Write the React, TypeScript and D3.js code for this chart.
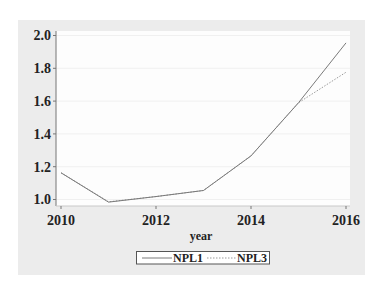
import React from "react";
import * as d3 from "d3";

const years = [2010, 2011, 2012, 2013, 2014, 2015, 2016];
const npl1 = [1.163, 0.984, 1.018, 1.055, 1.266, 1.59, 1.955];
const npl3 = [1.163, 0.986, 1.018, 1.055, 1.266, 1.59, 1.776];
const yTicks = [1.0, 1.2, 1.4, 1.6, 1.8, 2.0];
const xTicks = [2010, 2012, 2014, 2016];
const seriesNames = ["NPL1", "NPL3"];

export default function App() {
  const W = 376, H = 286;
  const x = d3.scaleLinear().domain([2010, 2016]).range([61, 346]);
  const y = d3.scaleLinear().domain([1.0, 2.0]).range([199.5, 35.5]);
  const line = d3.line<number>().x((_, i) => x(years[i])).y((d) => y(d));
  const font = "'Liberation Serif', 'DejaVu Serif', serif";
  return (
    <svg width={W} height={H} style={{ position: "absolute", left: 0, top: 0 }}>
      <rect x={0} y={0} width={W} height={H} fill="#fff" />
      <rect x={18} y={20} width={347} height={255} fill="#ececec" />
      <rect x={56} y={31} width={294} height={175} fill="#fdfdfd" />
      {yTicks.map((t) => (
        <line key={"g" + t} x1={56} x2={350} y1={y(t)} y2={y(t)} stroke="#f0f0f0" strokeWidth={1} />
      ))}
      <path d={line(npl3) || ""} fill="none" stroke="#9a9a9a" strokeWidth={1} strokeDasharray="1.5,1.5" />
      <path d={line(npl1) || ""} fill="none" stroke="#7a7a7a" strokeWidth={1} />
      <line x1={56} x2={56} y1={31} y2={206} stroke="#8a8a8a" strokeWidth={1.2} />
      <line x1={56} x2={350} y1={206} y2={206} stroke="#c8c8c8" strokeWidth={1} />
      {yTicks.map((t) => (
        <g key={"y" + t}>
          <line x1={53} x2={56} y1={y(t)} y2={y(t)} stroke="#777" />
          <text x={51} y={y(t) + 4.8} textAnchor="end" fontFamily={font} fontWeight="bold" fontSize={14} fill="#222">
            {t.toFixed(1)}
          </text>
        </g>
      ))}
      {xTicks.map((t) => (
        <g key={"x" + t}>
          <line x1={x(t)} x2={x(t)} y1={206} y2={209} stroke="#777" />
          <text x={x(t)} y={225} textAnchor="middle" fontFamily={font} fontWeight="bold" fontSize={14} fill="#222">
            {t}
          </text>
        </g>
      ))}
      <text x={201} y={240} textAnchor="middle" fontFamily={font} fontWeight="bold" fontSize={12} fill="#222">
        year
      </text>
      <rect x={136.5} y={251.5} width={133} height={12.5} fill="#fff" stroke="#555" strokeWidth={1} />
      <line x1={142} x2={172} y1={258} y2={258} stroke="#7a7a7a" />
      <text x={173} y={262} fontFamily={font} fontWeight="bold" fontSize={12} fill="#222">
        {seriesNames[0]}
      </text>
      <line x1={207} x2={236} y1={258} y2={258} stroke="#9a9a9a" strokeDasharray="1.5,1.5" />
      <text x={237} y={262} fontFamily={font} fontWeight="bold" fontSize={12} fill="#222">
        {seriesNames[1]}
      </text>
    </svg>
  );
}
